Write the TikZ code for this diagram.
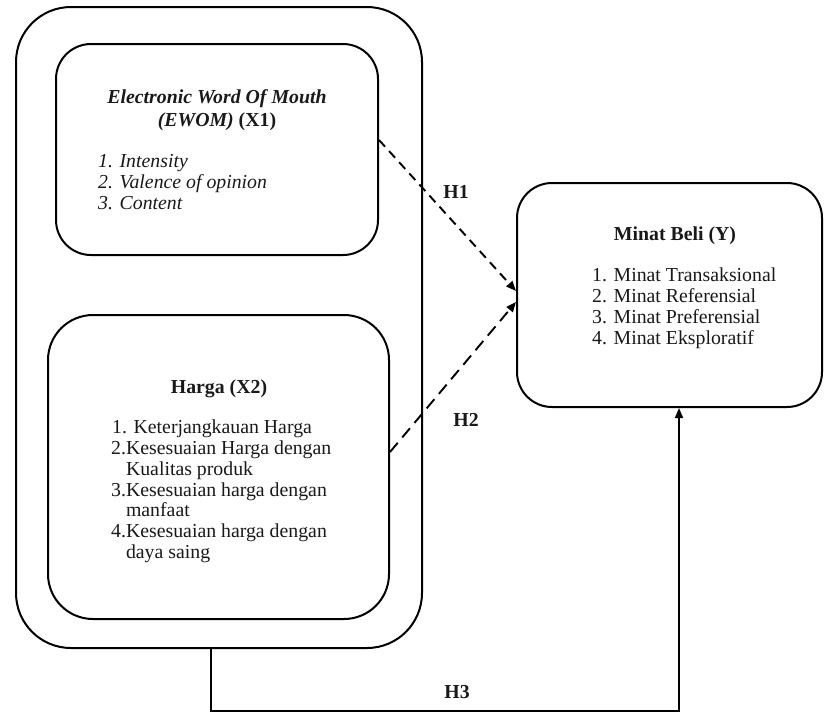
\documentclass[tikz,border=0pt]{standalone}
\usepackage{fontspec}
\setmainfont{Liberation Serif}
\usetikzlibrary{arrows.meta,calc}
\begin{document}
\begin{tikzpicture}[x=1pt,y=-1pt,
  box/.style={draw,line width=2pt,rounded corners=#1,inner sep=0,rectangle},
  txt/.style={inner sep=0,anchor=base west,font=\fontsize{19.8}{21}\selectfont,text=black!90},
  ttl/.style={inner sep=0,anchor=base,font=\fontsize{19.8}{21}\selectfont\bfseries,text=black!90},
  hlab/.style={inner sep=0,anchor=center,font=\fontsize{19.8}{21}\selectfont\bfseries,text=black!90},
  dashA/.style={line width=1.9pt,dash pattern=on 9pt off 6pt,-{Triangle[length=10pt,width=8pt]}},
  dashB/.style={line width=1.9pt,dash pattern=on 12pt off 7pt,-{Triangle[length=10pt,width=8pt]}},
  solidarrow/.style={line width=1.7pt,-{Triangle[length=10pt,width=8pt]}}]
\useasboundingbox (0,0) rectangle (824,713);

% boxes
\node[box=55pt,minimum width=406pt,minimum height=641pt] (outer) at (219,327.5) {};
\node[box=35pt,minimum width=322pt,minimum height=211pt] (ewom) at (217,149.5) {};
\node[box=45pt,minimum width=341pt,minimum height=304pt] (harga) at (218.5,467) {};
\node[box=35pt,minimum width=305pt,minimum height=224pt] (minat) at (669.5,295) {};

% EWOM text
\node[ttl] (et1) at (217,103) {\itshape Electronic Word Of Mouth};
\node[ttl] (et2) at (217,126) {{\itshape (EWOM)} (X1)};
\node[txt] (ei1) at (98,167) {\itshape 1. Intensity};
\node[txt] (ei2) at (98,188) {\itshape 2. Valence of opinion};
\node[txt] (ei3) at (98,209) {\itshape 3. Content};

% Harga text
\node[ttl] (ht) at (219,393) {Harga (X2)};
\node[txt] (hi1) at (112,433) {1. Keterjangkauan Harga};
\node[txt] (hi2) at (111,454) {2.Kesesuaian Harga dengan};
\node[txt] (hi3) at (111,475) {\hphantom{2.}Kualitas produk};
\node[txt] (hi4) at (111,496) {3.Kesesuaian harga dengan};
\node[txt] (hi5) at (111,516) {\hphantom{3.}manfaat};
\node[txt] (hi6) at (111,537) {4.Kesesuaian harga dengan};
\node[txt] (hi7) at (111,558) {\hphantom{4.}daya saing};

% Minat text
\node[ttl] (mt) at (675,240) {Minat Beli (Y)};
\node[txt] (mi1) at (592,281) {1. Minat Transaksional};
\node[txt] (mi2) at (592,302) {2. Minat Referensial};
\node[txt] (mi3) at (592,323) {3. Minat Preferensial};
\node[txt] (mi4) at (592,344) {4. Minat Eksploratif};

% connectors
\draw[dashA] ($(ewom.east)+(0,-9.5)$) -- ($(minat.west)+(0,-4)$);
\draw[dashB] ($(harga.east)+(0,-15)$) -- ($(minat.west)+(0,7)$);
\coordinate (h3a) at (211,711);
\coordinate (h3b) at (679,711);
\draw[solidarrow] (outer.south -| h3a) -- (h3a) -- (h3b) -- (h3b |- minat.south);

% labels
\node[hlab] (l1) at (456,192) {H1};
\node[hlab] (l2) at (466,420) {H2};
\node[hlab] (l3) at (457,692) {H3};
\end{tikzpicture}
\end{document}
